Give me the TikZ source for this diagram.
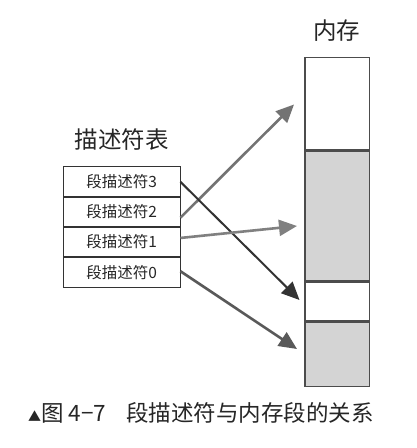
\documentclass[tikz,border=0pt]{standalone}
\usepackage{fontspec}
\setmainfont{Noto Sans CJK SC}
\usetikzlibrary{arrows.meta,calc}
\begin{document}
\begin{tikzpicture}[x=1pt,y=-1pt,
  cell/.style={draw=black!80,line width=0.9pt,minimum width=116.7pt,minimum height=29.4pt,inner sep=0pt,font=\fontsize{15.5}{15.5}\selectfont,text=black!85},
  memblk/.style={draw=black!70,line width=1.3pt,minimum width=64.7pt,inner sep=0pt},
  usedblk/.style={memblk,fill=black!17},
  link/.style={line width=2.6pt,-{Triangle[length=18pt,width=16pt]}}
]
\useasboundingbox[fill=white] (0,0) rectangle (417,448);

% descriptor table
\node[font=\fontsize{23.5}{23.5}\selectfont,text=black!85] (tabtitle) at (121.5,140) {描述符表};
\node[cell] (d3) at (121.65,181.35) {段描述符3};
\node[cell,anchor=north] (d2) at (d3.south) {段描述符2};
\node[cell,anchor=north] (d1) at (d2.south) {段描述符1};
\node[cell,anchor=north] (d0) at (d1.south) {段描述符0};

% memory column
\node[font=\fontsize{23.5}{23.5}\selectfont,text=black!85] (memtitle) at (336.7,31) {内存};
\node[memblk,minimum height=92.6pt,anchor=north west] (m0) at (304.4,56.7) {};
\node[usedblk,minimum height=129.7pt,anchor=north west] (m1) at (m0.south west) {};
\node[memblk,minimum height=38.3pt,anchor=north west] (m2) at (m1.south west) {};
\node[usedblk,minimum height=64.4pt,anchor=north west] (m3) at (m2.south west) {};

% arrow ends
\coordinate (t3) at (299.5,300);
\coordinate (t2) at (294,104.5);
\coordinate (t1) at (297,226);
\coordinate (t0) at (297,349);

\draw[link,draw=black!55,fill=black!55] ($(d2.east)+(0,6)$) -- (t2);
\draw[link,line width=2pt,draw=black!80,fill=black!80] ($(d3.east)+(0,0.5)$) -- (t3);
\draw[link,draw=black!50,fill=black!50] ($(d1.east)+(0,-4)$) -- (t1);
\draw[link,draw=black!65,fill=black!65] ($(d0.east)+(0,-1)$) -- (t0);

% caption
\node[anchor=west,font=\fontsize{22.5}{22.5}\selectfont,text=black!85,inner sep=0pt] (caption) at (28,413)
  {{\fontsize{13}{13}\selectfont\raisebox{0.5pt}{▲}}图 4−7\hspace{0.9em}段描述符与内存段的关系};
\end{tikzpicture}
\end{document}
